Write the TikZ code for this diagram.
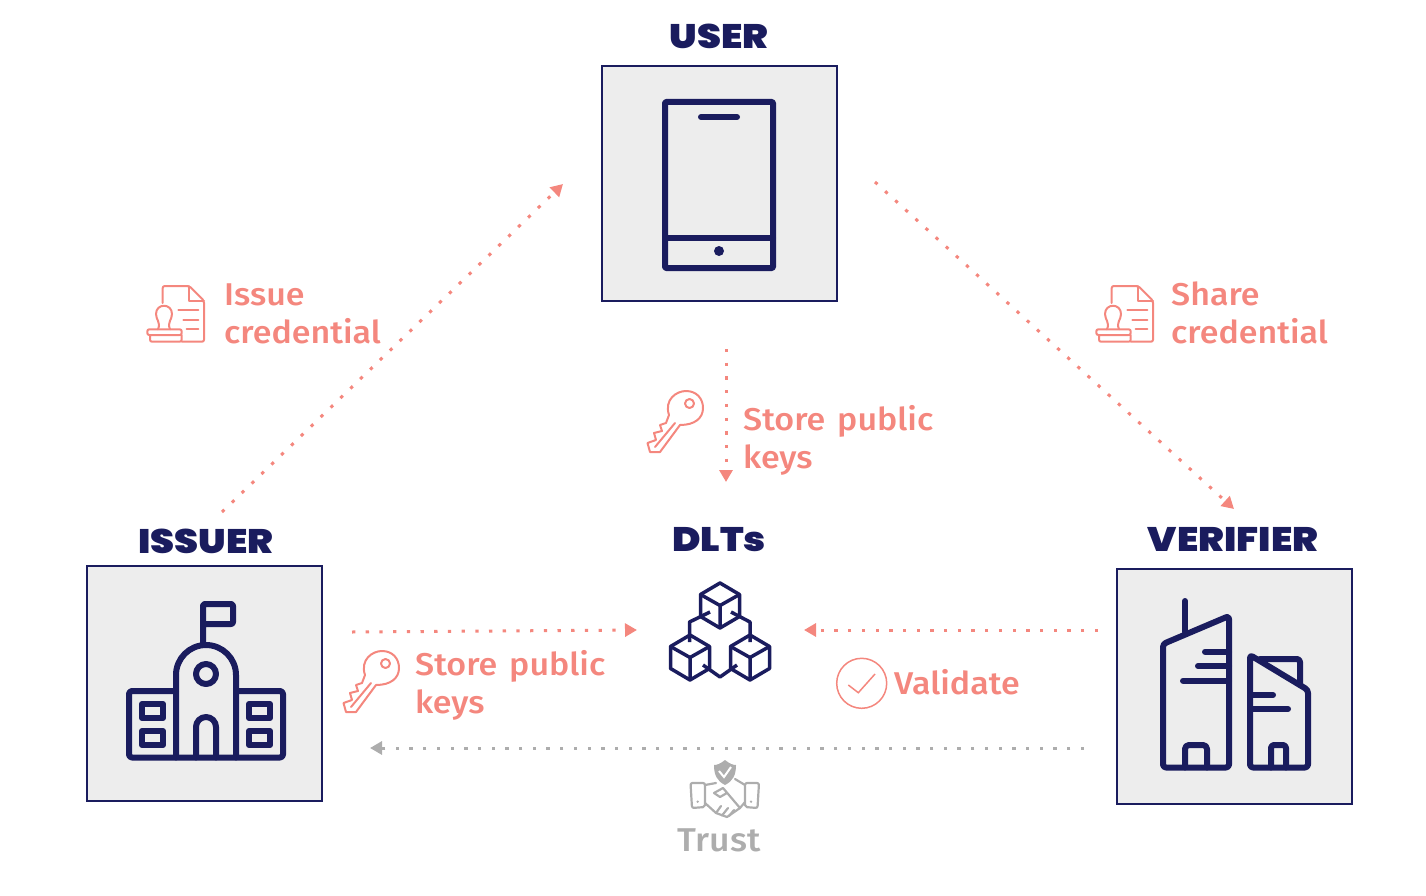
\documentclass[tikz,border=0pt]{standalone}
\usepackage{fontspec}
\setmainfont[FakeStretch=1.08, WordSpace=1.4]{Fira Sans Medium}
\newfontfamily\headfont[FakeStretch=1.13]{Poppins Black}
\usetikzlibrary{arrows.meta}
\definecolor{navy}{HTML}{1A1C5E}
\definecolor{boxgray}{HTML}{EDEDED}
\definecolor{salmon}{HTML}{F4877E}
\definecolor{trustgray}{HTML}{ADADAD}
\tikzset{
  rolebox/.style={draw=navy, line width=2pt, fill=boxgray, minimum size=235pt, inner sep=0pt},
  rolename/.style={text=navy, font=\headfont\fontsize{34}{38}\selectfont},
  steptext/.style={text=salmon, align=left, anchor=west, inner sep=0pt, font=\fontsize{31.5}{38}\selectfont},
  flow/.style={line width=3pt, dash pattern=on 3.3pt off 10.4pt, -{Triangle[width=13pt,length=12pt,sep=0pt]}},
  navyicon/.style={navy, line width=6pt, line join=round, line cap=round},
  thinicon/.style={salmon, line width=2pt, line join=round, line cap=round},
  pics/stamp/.style={code={
    \draw[thinicon, rounded corners=2pt] (22.7,33) -- (22.7,16) -- (49.3,16) -- (64,30.7) -- (64,71.7) -- (41.7,71.7);
    \draw[thinicon] (49.3,16) -- (49.3,30.7) -- (64,30.7);
    \draw[thinicon] (38.3,40) -- (58.3,40) (43.3,50) -- (58.3,50) (46.7,59.3) -- (58.3,59.3);
    \draw[thinicon] (18,59.3) .. controls (21,52) and (16,50) .. (16,44) .. controls (16,33) and (32,33) .. (32,44) .. controls (32,50) and (27,52) .. (30,59.3);
    \draw[thinicon, rounded corners=2pt] (7.3,59.3) rectangle (41.7,65) (10,65) -- (10,71.7) -- (41.7,71.7) -- (41.7,65);
  }},
  pics/key/.style={code={
    \draw[thinicon] (669,415) .. controls (664,400) and (676,391) .. (686,391) .. controls (697,391) and (703,399) .. (703,408) .. controls (703,418) and (695,425) .. (680,425) -- (660,452) -- (650,452) -- (647.5,443) -- (656,440) -- (654,433) -- (662,431) -- (660,425) -- (666,423) -- cycle;
    \draw[thinicon] (655,447) -- (675,423);
    \draw[thinicon] (689.5,403.5) circle (4.5);
  }},
  pics/cube/.style={code={
    \draw[navy, line width=3.5pt, line join=round] (0,-22.5) -- (19.5,-11) -- (19.5,11) -- (0,22.5) -- (-19.5,11) -- (-19.5,-11) -- cycle;
    \draw[navy, line width=3.5pt, line join=round] (-19.5,-11) -- (0,0) -- (19.5,-11) (0,0) -- (0,22.5);
  }}
}
\begin{document}
\begin{tikzpicture}[x=1pt, y=-1pt]
  \useasboundingbox (0,0) rectangle (1426,896);

  % Boxes of the three roles
  \node[rolebox] (userbox) at (719.5,183.5) {};
  \node[rolebox] (issuerbox) at (204.5,683.7) {};
  \node[rolebox] (verifierbox) at (1234.5,686.5) {};

  % Role names
  \node[rolename] (username) at (719,36) {USER};
  \node[rolename] (issuername) at (206,541) {ISSUER};
  \node[rolename] (verifiername) at (1233,539) {VERIFIER};
  \node[rolename] (dltname) at (719,539.5) {DLTs};

  % Phone
  \draw[navyicon, line cap=butt, rounded corners=1pt] (665,102) rectangle (773,268);
  \draw[navyicon] (665,238) -- (773,238);
  \draw[navyicon] (701,117) -- (737,117);
  \fill[navy] (719,251) circle (5);

  % School
  \draw[navyicon, rounded corners=3pt] (176,691) -- (129,691) -- (129,757.5) -- (283,757.5) -- (283,691) -- (236,691);
  \draw[navyicon] (176,757.5) -- (176,675) arc[start angle=180, end angle=360, radius=30] -- (236,757.5);
  \draw[navyicon] (206,674) circle (10);
  \draw[navyicon] (196,757.5) -- (196,727) arc[start angle=180, end angle=360, radius=10] -- (216,757.5);
  \draw[navyicon, rounded corners=2pt] (203,645) -- (203,604) -- (233,604) -- (233,624) -- (203,624);
  \foreach \winx in {142,249} {
    \draw[navyicon] (\winx,704) rectangle +(21,14);
    \draw[navyicon] (\winx,731) rectangle +(21,14);
  }

  % Towers
  \draw[navyicon, rounded corners=3pt] (1163,644) -- (1163,767.5) -- (1229,767.5) -- (1229,616) -- cycle;
  \draw[navyicon] (1185,601) -- (1185,632);
  \draw[navyicon] (1205,651.7) -- (1229,651.7) (1198,666) -- (1229,666) (1183,680.7) -- (1229,680.7);
  \draw[navyicon, rounded corners=4pt] (1185,767.5) -- (1185,745) -- (1207,745) -- (1207,767.5);
  \draw[navyicon, rounded corners=3pt] (1250,655) -- (1250,767.5) -- (1308,767.5) -- (1308,690) -- cycle;
  \draw[navyicon, rounded corners=3pt] (1260,659) -- (1300,659) -- (1300,684);
  \draw[navyicon] (1250,695) -- (1273,695) (1250,709) -- (1288,709);
  \draw[navyicon, rounded corners=3pt] (1271,767.5) -- (1271,745) -- (1286,745) -- (1286,767.5);

  % Blocks
  \pic at (720,605.5) {cube};
  \pic at (690,657.5) {cube};
  \pic at (750,657.5) {cube};
  \draw[navy, line width=3.5pt, line join=round] (710,612) -- (689.5,622) -- (689.5,642);
  \draw[navy, line width=3.5pt, line join=round] (731,612) -- (750,622) -- (750,642);
  \draw[navy, line width=3.5pt, line join=round] (703,665) -- (720,677) -- (737,665);

  % Free ends of the arrows
  \coordinate (issuefrom) at (222,512);
  \coordinate (issueto) at (563,184);
  \coordinate (sharefrom) at (875,182);
  \coordinate (shareto) at (1234,509);
  \coordinate (storefrom) at (726,349);
  \coordinate (storeto) at (726,482);
  \coordinate (chainfrom) at (352,632);
  \coordinate (chainto) at (637,630);
  \coordinate (checkfrom) at (1098,630);
  \coordinate (checkto) at (804,630);
  \coordinate (trustfrom) at (1084,748);
  \coordinate (trustto) at (370,748);

  % Arrows
  \draw[flow, salmon] (issuefrom) -- (issueto);
  \draw[flow, salmon] (sharefrom) -- (shareto);
  \draw[flow, salmon] (storefrom) -- (storeto);
  \draw[flow, salmon] (chainfrom) -- (chainto);
  \draw[flow, salmon] (checkfrom) -- (checkto);
  \draw[flow, trustgray] (trustfrom) -- (trustto);

  % Step labels
  \node[steptext] (issuetext) at (224,314) {Issue\\credential};
  \node[steptext] (sharetext) at (1171,313) {Share\\credential};
  \node[steptext] (storetext) at (743,440) {Store public\\keys};
  \node[steptext] (chaintext) at (415,685) {Store public\\keys};
  \node[steptext] (checktext) at (894,682) {Validate};
  \node[steptext, text=trustgray, anchor=center, font=\fontsize{33}{38}\selectfont] (trusttext) at (719,840) {Trust};

  % Stamps and keys
  \pic at (140,270) {stamp};
  \pic at (1089,270) {stamp};
  \pic at (0,0) {key};
  \pic at (-304,260) {key};

  % Check mark
  \draw[salmon, line width=1.5pt] (861.7,683.3) circle (25);
  \draw[salmon, line width=1.5pt] (848.3,685) -- (858.3,692.7) -- (875,674);

  % Handshake
  \fill[trustgray] (725,760) .. controls (720,764) and (717,765) .. (714,765) .. controls (714,775) and (717,781) .. (725,785) .. controls (733,781) and (736,775) .. (736,765) .. controls (733,765) and (730,764) .. (725,760);
  \draw[white, line width=2pt] (719,771) -- (724,777) -- (731,767);
  \begin{scope}[trustgray, line width=2.2pt, line join=round, line cap=round]
    \draw[rounded corners=2pt] (690.5,783) -- (705,783) -- (705,807) -- (692,808) -- cycle;
    \draw[rounded corners=2pt] (745,783) -- (759,783) -- (757.5,808) -- (745,807) -- cycle;
    \fill (697.7,801.7) circle (1.3) (751,801.7) circle (1.3);
    \draw (705,785) -- (716,783) (705,803) -- (716,813) -- (727,817) -- (740,808) -- (745,802);
    \draw (735,779) -- (745,785);
    \draw (740,808) -- (723,788) -- (714,793) -- (720,797) -- (727,793);
    \draw (716,813) -- (721,806) (722,815.5) -- (728,808) (729,816) -- (734,810);
  \end{scope}
\end{tikzpicture}
\end{document}
